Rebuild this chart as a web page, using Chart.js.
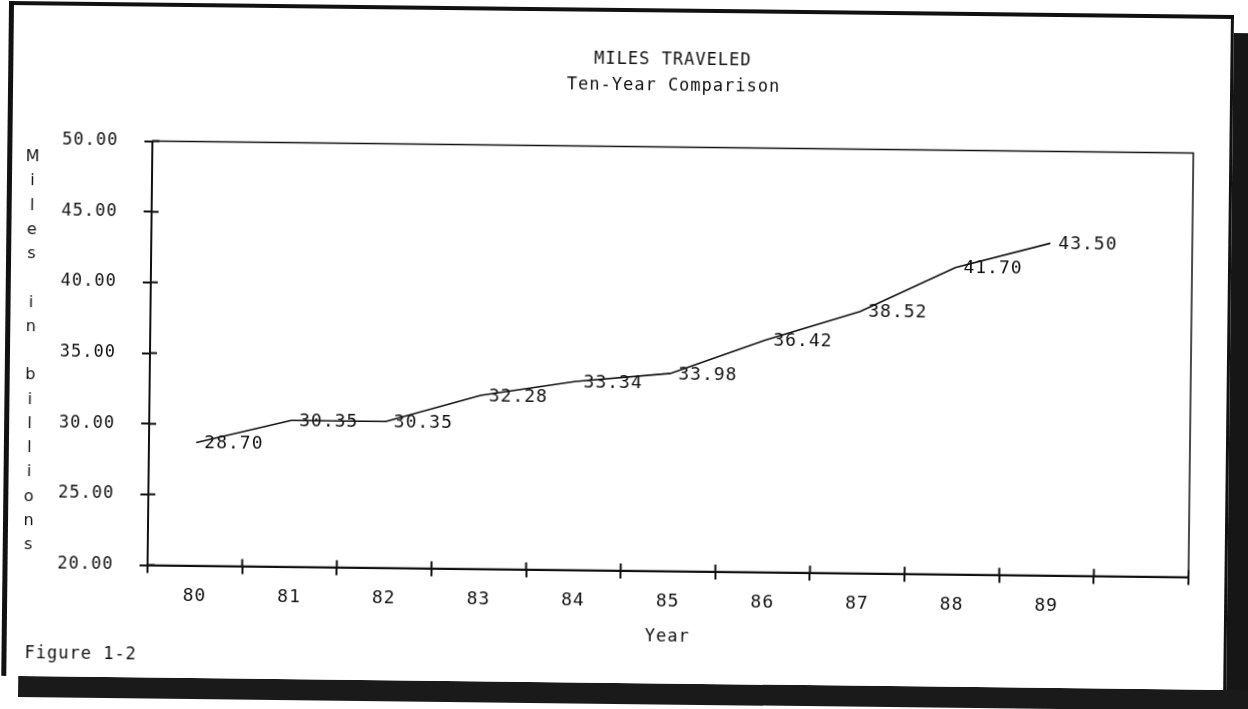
<!DOCTYPE html>
<html>
<head>
<meta charset="utf-8">
<title>Miles Traveled</title>
<script src="https://cdn.jsdelivr.net/npm/chart.js@4.4.1/dist/chart.umd.min.js"></script>
<style>
    html, body { margin: 0; padding: 0; background: #fff; overflow: hidden; }
    /* the scanned page sits slightly crooked */
    #sheet { position: absolute; left: 0; top: 0; width: 1248px; height: 709px; transform: rotate(0.66deg); transform-origin: 624px 354.5px; }
    #paper { position: absolute; left: 5px; top: 8px; width: 1225px; height: 675px; box-sizing: border-box; background: #fff;
             border-left: 5px solid #111; border-top: 4px solid #111; border-right: 3px solid #111; }
    #shadowR { position: absolute; left: 1228px; top: 26px; width: 60px; height: 678px; background: #161616; }
    #shadowB { position: absolute; left: 22px; top: 683px; width: 1266px; height: 21px; background: #1a1a1a; }
    canvas { position: absolute; left: 0; top: 0; }
</style>
</head>
<body>
<div id="sheet">
    <div id="shadowR"></div>
    <div id="shadowB"></div>
    <div id="paper"></div>
    <canvas id="chart" width="1248" height="709"></canvas>
</div>
<script>
const years = ['80', '81', '82', '83', '84', '85', '86', '87', '88', '89'];
const miles = [28.70, 30.35, 30.35, 32.28, 33.34, 33.98, 36.42, 38.52, 41.70, 43.50];
const yTicks = [20, 25, 30, 35, 40, 45, 50];
const titleLines = ['MILES TRAVELED', 'Ten-Year Comparison'];
const yTitle = 'Miles in billions';
const xTitle = 'Year';
const figureNote = 'Figure 1-2';

const FONT = "'DejaVu Sans Mono', monospace";
Chart.defaults.font.family = FONT;
Chart.defaults.font.size = 17;
Chart.defaults.color = '#111';

// box, inner tick halves, value labels and the loose texts
const decor = {
    id: 'decor',
    beforeDraw(chart) {
        chart.ctx.letterSpacing = '1px';
    },
    afterDatasetsDraw(chart) {
        const ctx = chart.ctx;
        const a = chart.chartArea;
        const x = chart.scales.x, y = chart.scales.y;
        ctx.save();
        ctx.strokeStyle = '#111';
        ctx.lineWidth = 1.5;
        ctx.strokeRect(a.left, a.top, a.right - a.left, a.bottom - a.top);

        ctx.lineWidth = 2;
        ctx.beginPath();
        yTicks.forEach(v => {
            const py = y.getPixelForValue(v);
            ctx.moveTo(a.left, py);
            ctx.lineTo(a.left + 7, py);
        });
        for (let i = 0; i <= x.ticks.length; i++) {
            const px = x.getPixelForValue(i - 0.5);
            ctx.moveTo(px, a.bottom);
            ctx.lineTo(px, a.bottom - 7);
        }
        ctx.stroke();

        ctx.fillStyle = '#111';
        ctx.font = '18px ' + FONT;
        ctx.textAlign = 'left';
        ctx.textBaseline = 'middle';
        chart.getDatasetMeta(0).data.forEach((pt, i) => {
            ctx.fillText(miles[i].toFixed(2), pt.x + 8, pt.y + 1);
        });

        ctx.font = '17px ' + FONT;
        ctx.textAlign = 'center';
        const cx = (a.left + a.right) / 2;
        ctx.fillText(titleLines[0], cx - 1, 59.5);
        ctx.fillText(titleLines[1], cx, 85.5);

        // stacked letters, the way the plotter wrote the y title
        ctx.font = "16px 'DejaVu Sans', sans-serif";
        yTitle.split('').forEach((ch, i) => {
            ctx.fillText(ch, 31, 164 + i * 24.25);
        });

        ctx.font = '17px ' + FONT;
        ctx.textAlign = 'left';
        ctx.fillText(figureNote, 28, 661);
        ctx.restore();
    }
};

new Chart(document.getElementById('chart'), {
    type: 'line',
    data: {
        labels: years.concat(['']),
        datasets: [{
            data: miles,
            borderColor: '#111',
            borderWidth: 1.6,
            pointRadius: 0,
            tension: 0,
            fill: false
        }]
    },
    options: {
        responsive: false,
        animation: false,
        layout: { padding: { top: 146.5, right: 57, left: 0, bottom: 0 } },
        plugins: {
            legend: { display: false },
            tooltip: { enabled: false }
        },
        scales: {
            x: {
                type: 'category',
                offset: true,
                grid: { offset: true, drawOnChartArea: false, tickLength: 8, color: '#111', lineWidth: 2 },
                border: { color: '#111', width: 2 },
                ticks: { padding: 12, font: { size: 18 }, color: '#111', autoSkip: false, maxRotation: 0 },
                title: { display: true, text: xTitle, color: '#111', font: { size: 17 }, padding: { top: 0, bottom: 62 } },
                afterFit: s => { s.height = 138.5; }
            },
            y: {
                min: 20,
                max: 50,
                afterBuildTicks: s => { s.ticks = yTicks.map(v => ({ value: v })); },
                grid: { drawOnChartArea: false, tickLength: 8, color: '#111', lineWidth: 2 },
                border: { color: '#111', width: 2 },
                ticks: { padding: 26, color: '#111', callback: v => v.toFixed(2) },
                afterFit: s => { s.width = 150; }
            }
        }
    },
    plugins: [decor]
});
</script>
</body>
</html>
